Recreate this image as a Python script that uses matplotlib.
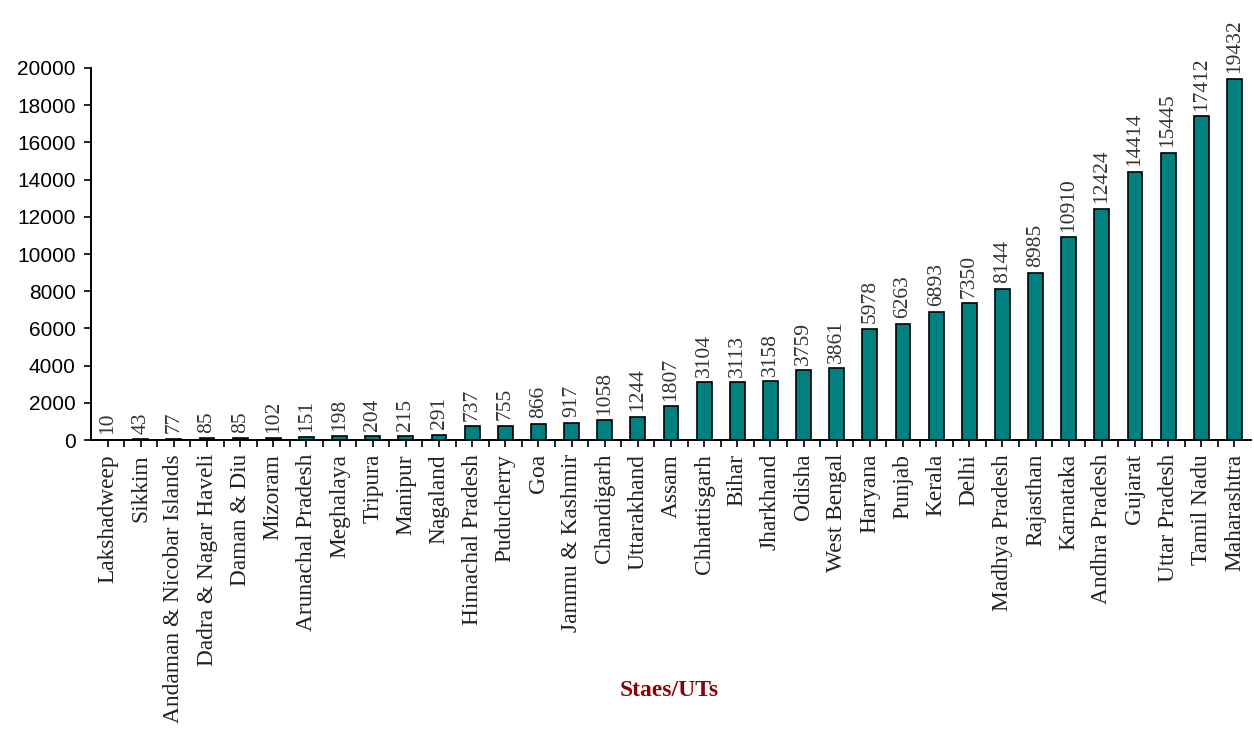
import numpy as np
import matplotlib.pyplot as plt

states = ["Lakshadweep", "Sikkim", "Andaman & Nicobar Islands", "Dadra & Nagar Haveli",
          "Daman & Diu", "Mizoram", "Arunachal Pradesh", "Meghalaya", "Tripura", "Manipur",
          "Nagaland", "Himachal Pradesh", "Puducherry", "Goa", "Jammu & Kashmir", "Chandigarh",
          "Uttarakhand", "Assam", "Chhattisgarh", "Bihar", "Jharkhand", "Odisha", "West Bengal",
          "Haryana", "Punjab", "Kerala", "Delhi", "Madhya Pradesh", "Rajasthan", "Karnataka",
          "Andhra Pradesh", "Gujarat", "Uttar Pradesh", "Tamil Nadu", "Maharashtra"]
values = [10, 43, 77, 85, 85, 102, 151, 198, 204, 215, 291, 737, 755, 866, 917, 1058,
          1244, 1807, 3104, 3113, 3158, 3759, 3861, 5978, 6263, 6893, 7350, 8144, 8985,
          10910, 12424, 14414, 15445, 17412, 19432]
yticks = [0, 2000, 4000, 6000, 8000, 10000, 12000, 14000, 16000, 18000, 20000]

serif = "Liberation Serif"
fig = plt.figure(figsize=(12.54, 7.31), dpi=100)
ax = fig.add_axes([0.0726, 0.398, 0.925, 0.509])

x = np.arange(len(states))
bars = ax.bar(x, values, width=0.45, color="#008080", edgecolor="black", linewidth=1.2)

# value labels above each bar
for xi, v in zip(x, values):
    ax.annotate(str(v), (xi, v), xytext=(0, 4), textcoords="offset points",
                rotation=90, ha="center", va="bottom", fontsize=15.5,
                family=serif, color="#333333", clip_on=False)

ax.set_xlim(-0.5, len(states) - 0.5)
ax.set_ylim(0, 20000)
ax.set_yticks(yticks)
ax.set_yticklabels([str(t) for t in yticks], family="Liberation Sans", fontsize=15)
ax.set_xticks(x)
ax.set_xticklabels(states, rotation=90, family=serif, fontsize=16.8, va="top", ha="center",
                   color="#222222")
ax.set_xticks(x[:-1] + 0.5, minor=True)
ax.tick_params(axis="x", which="both", direction="out", length=5, width=1.2)
ax.tick_params(axis="y", direction="out", length=5, width=1.2, pad=6)
ax.tick_params(axis="x", which="major", pad=5)

for s in ["top", "right"]:
    ax.spines[s].set_visible(False)
for s in ["left", "bottom"]:
    ax.spines[s].set_linewidth(1.4)

fig.text(0.534, 0.055, "Staes/UTs", family=serif, fontweight="bold", fontsize=17,
         color="#8B0000", ha="center", va="center")

fig.savefig("out.png", dpi=100)
